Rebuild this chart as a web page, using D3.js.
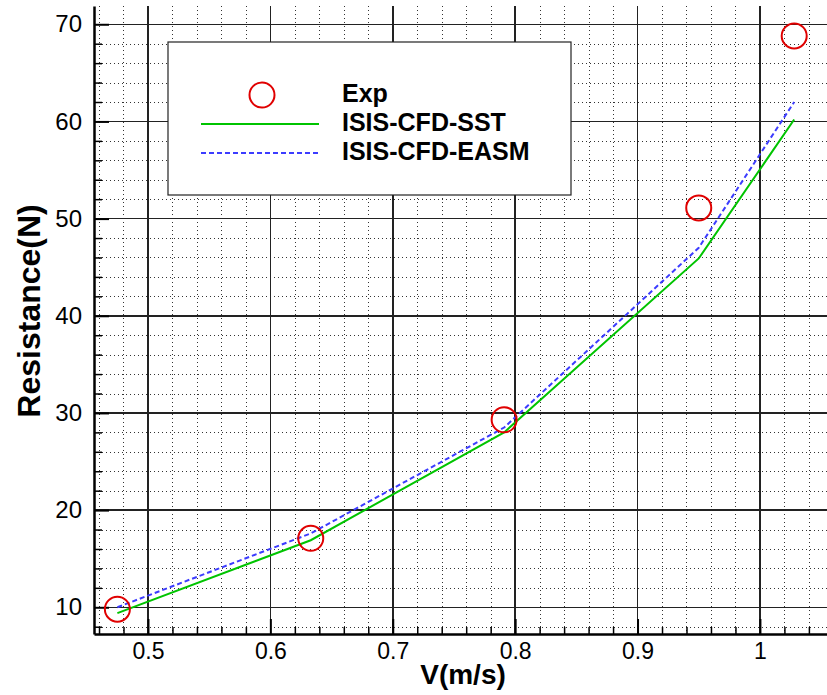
<!DOCTYPE html>
<html>
<head>
<meta charset="utf-8">
<script src="https://cdn.jsdelivr.net/npm/d3@7"></script>
<style>
  body { margin: 0; background: #fff; }
  svg { display: block; font-family: "Liberation Sans", Arial, Helvetica, sans-serif; }
  .tick text { fill: #000; }
  .grid line { shape-rendering: crispEdges; }
</style>
</head>
<body>
<div id="chart"></div>
<script>
// values
const speeds = [0.475, 0.633, 0.791, 0.950, 1.028];
const expRes = [9.8, 17.1, 29.3, 51.1, 68.8];
const sstRes = [9.4, 16.9, 28.0, 45.9, 60.2];
const easmRes = [10.0, 17.6, 28.5, 47.0, 62.0];

const xTicks = [0.5, 0.6, 0.7, 0.8, 0.9, 1.0];
const yTicks = [10, 20, 30, 40, 50, 60, 70];
const legendLabels = ["Exp", "ISIS-CFD-SST", "ISIS-CFD-EASM"];

const fullWidth = 827, fullHeight = 695;
const margin = { top: 6, right: 0, bottom: 61, left: 94 };
const width = fullWidth - margin.left - margin.right,
  height = fullHeight - margin.top - margin.bottom;

const svg = d3.select("#chart")
  .append("svg")
  .attr("width", fullWidth)
  .attr("height", fullHeight)
  .append("g")
  .attr("transform", `translate(${margin.left},${margin.top})`);

const x = d3.scaleLinear().domain([0.4559, 1.0548]).range([0, width]);
const y = d3.scaleLinear().domain([7.25, 71.88]).range([height, 0]);

const xMinor = d3.range(0.46, 1.05, 0.02).filter(v => !xTicks.some(t => Math.abs(t - v) < 1e-6));
const yMinor = d3.range(8, 72, 2).filter(v => v % 10 !== 0);

// dotted minor grid
const grid = svg.append("g").attr("class", "grid");

grid.append("g")
  .selectAll("line")
  .data(xMinor)
  .join("line")
  .attr("x1", d => Math.round(x(d)) + 0.5).attr("x2", d => Math.round(x(d)) + 0.5)
  .attr("y1", 0).attr("y2", height)
  .attr("stroke", "#333").attr("stroke-width", 1)
  .attr("stroke-dasharray", "1,3");

grid.append("g")
  .selectAll("line")
  .data(yMinor)
  .join("line")
  .attr("x1", 0).attr("x2", width)
  .attr("y1", d => Math.round(y(d)) + 0.5).attr("y2", d => Math.round(y(d)) + 0.5)
  .attr("stroke", "#333").attr("stroke-width", 1)
  .attr("stroke-dasharray", "1,3");

// major grid
grid.append("g")
  .selectAll("line")
  .data(xTicks)
  .join("line")
  .attr("x1", d => x(d)).attr("x2", d => x(d))
  .attr("y1", 0).attr("y2", height)
  .attr("stroke", "#222").attr("stroke-width", 1.5);

grid.append("g")
  .selectAll("line")
  .data(yTicks)
  .join("line")
  .attr("x1", 0).attr("x2", width)
  .attr("y1", d => y(d)).attr("y2", d => y(d))
  .attr("stroke", "#222").attr("stroke-width", 1.5);

// axes with inward ticks
const xAxis = d3.axisBottom(x).tickValues(xTicks).tickSizeInner(-15).tickSizeOuter(0)
  .tickPadding(9).tickFormat(d => d === 1 ? "1" : d3.format(".1f")(d));
const gx = svg.append("g")
  .attr("transform", `translate(0,${height})`)
  .call(xAxis);
gx.selectAll("line").attr("stroke", "#000").attr("stroke-width", 2);
gx.selectAll("text").style("font-size", "23px");
gx.select(".domain").attr("stroke-width", 2.5);

svg.append("g")
  .attr("transform", `translate(0,${height})`)
  .call(d3.axisBottom(x).tickValues(xMinor).tickSizeInner(-7).tickSizeOuter(0).tickFormat(""))
  .call(g => g.select(".domain").remove())
  .selectAll("line").attr("stroke-width", 1.5);

const yAxis = d3.axisLeft(y).tickValues(yTicks).tickSizeInner(-15).tickSizeOuter(0).tickPadding(12);
const gy = svg.append("g").call(yAxis);
gy.selectAll("line").attr("stroke", "#000").attr("stroke-width", 2);
gy.selectAll("text").style("font-size", "24px");
gy.select(".domain").attr("stroke-width", 2.5);

svg.append("g")
  .call(d3.axisLeft(y).tickValues(yMinor).tickSizeInner(-8).tickSizeOuter(0).tickFormat(""))
  .call(g => g.select(".domain").remove())
  .selectAll("line").attr("stroke-width", 1.5);

// axis titles
svg.append("text")
  .attr("x", 463 - margin.left)
  .attr("y", height + 50)
  .attr("text-anchor", "middle")
  .style("font-size", "28px")
  .style("font-weight", "bold")
  .text("V(m/s)");

svg.append("text")
  .attr("transform", "rotate(-90)")
  .attr("x", -(311 - margin.top))
  .attr("y", -margin.left + 40)
  .attr("text-anchor", "middle")
  .style("font-size", "32px")
  .style("font-weight", "bold")
  .text("Resistance(N)");

// series
const line = d3.line().x(d => x(d[0])).y(d => y(d[1]));

svg.append("path")
  .datum(d3.zip(speeds, sstRes))
  .attr("d", line)
  .attr("fill", "none")
  .attr("stroke", "#00c400")
  .attr("stroke-width", 2);

svg.append("path")
  .datum(d3.zip(speeds, easmRes))
  .attr("d", line)
  .attr("fill", "none")
  .attr("stroke", "#3c3cff")
  .attr("stroke-width", 2)
  .attr("stroke-dasharray", "5,3");

svg.append("g")
  .selectAll("circle")
  .data(d3.zip(speeds, expRes))
  .join("circle")
  .attr("cx", d => x(d[0]))
  .attr("cy", d => y(d[1]))
  .attr("r", 12.5)
  .attr("fill", "none")
  .attr("stroke", "#e00000")
  .attr("stroke-width", 2);

// legend
const legend = svg.append("g")
  .attr("transform", `translate(${168 - margin.left},${42 - margin.top})`);

legend.append("rect")
  .attr("width", 403)
  .attr("height", 153)
  .attr("fill", "#fff")
  .attr("stroke", "#222")
  .attr("stroke-width", 1.2);

legend.append("circle")
  .attr("cx", 94).attr("cy", 53).attr("r", 12.5)
  .attr("fill", "none").attr("stroke", "#e00000").attr("stroke-width", 2);

legend.append("line")
  .attr("x1", 33).attr("x2", 151).attr("y1", 82).attr("y2", 82)
  .attr("stroke", "#00c400").attr("stroke-width", 2);

legend.append("line")
  .attr("x1", 33).attr("x2", 150).attr("y1", 111).attr("y2", 111)
  .attr("stroke", "#3c3cff").attr("stroke-width", 2)
  .attr("stroke-dasharray", "5,3");

legend.selectAll("text.lbl")
  .data(legendLabels)
  .join("text")
  .attr("class", "lbl")
  .attr("x", 174)
  .attr("y", (d, i) => 60 + i * 29)
  .style("font-size", "25px")
  .style("font-weight", "bold")
  .text(d => d);
</script>
</body>
</html>
